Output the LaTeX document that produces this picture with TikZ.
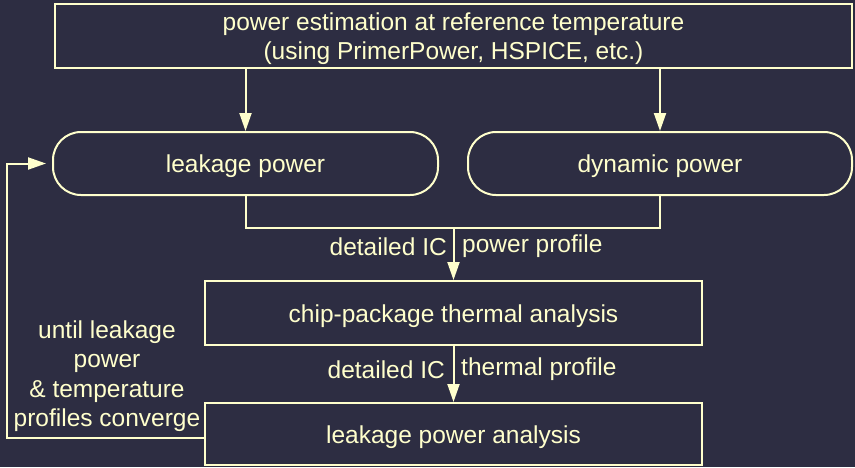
\documentclass[tikz,border=0pt]{standalone}
\usepackage{fontspec}
\setmainfont{Liberation Sans}
\usetikzlibrary{arrows.meta,calc}
\definecolor{bgc}{RGB}{45,45,66}
\definecolor{fg}{RGB}{255,255,204}
\begin{document}
\begin{tikzpicture}[x=1pt,y=-1pt,
  every node/.style={text=fg,font=\fontsize{24.5}{29.5}\selectfont,inner sep=0pt},
  boxstyle/.style={draw=fg,line width=2pt,minimum width=#1},
  txt/.style={yshift=-2.8pt,align=center},
  conn/.style={draw=fg,line width=2pt},
  arr/.style={conn,-{Triangle[length=18pt,width=12pt]}}]
\fill[bgc] (0,0) rectangle (855,467);
\useasboundingbox (0,0) rectangle (855,467);
\node[boxstyle=797pt,minimum height=64pt,label={[txt]center:power estimation at reference temperature\\(using PrimerPower, HSPICE, etc.)}] (top) at (453.5,36) {};
\node[boxstyle=385pt,minimum height=63pt,rounded corners=28pt,label={[txt]center:leakage power}] (leak) at (245.5,163.5) {};
\node[boxstyle=384pt,minimum height=63pt,rounded corners=28pt,label={[txt]center:dynamic power}] (dyn) at (660,163.5) {};
\node[boxstyle=497pt,minimum height=64pt,label={[txt]center:chip-package thermal analysis}] (chip) at (453.5,313) {};
\node[boxstyle=497pt,minimum height=62pt,label={[txt]center:leakage power analysis}] (lpa) at (453.5,434) {};
\draw[arr] (leak.north |- top.south) -- (leak.north);
\draw[arr] (dyn.north |- top.south) -- (dyn.north);
\coordinate (m) at (453.5,228);
\draw[conn] (leak.south) |- (m) -| (dyn.south);
\draw[arr] (m) -- (chip.north);
\draw[arr] (chip.south) -- (lpa.north);
\node[anchor=east] (l1a) at (447,246.5) {detailed IC};
\node[anchor=west] (l1b) at (462,246.5) {power profile};
\node[anchor=east] (l2a) at (445,369.5) {detailed IC};
\node[anchor=west] (l2b) at (461,369.5) {thermal profile};
\coordinate (fb) at (7,438);
\draw[arr,shorten >=6pt] (lpa.west |- fb) -- (fb) |- (leak.west);
\node[align=center] (loop) at (107,376) {until leakage\\power\\\& temperature\\profiles converge};
\end{tikzpicture}
\end{document}
